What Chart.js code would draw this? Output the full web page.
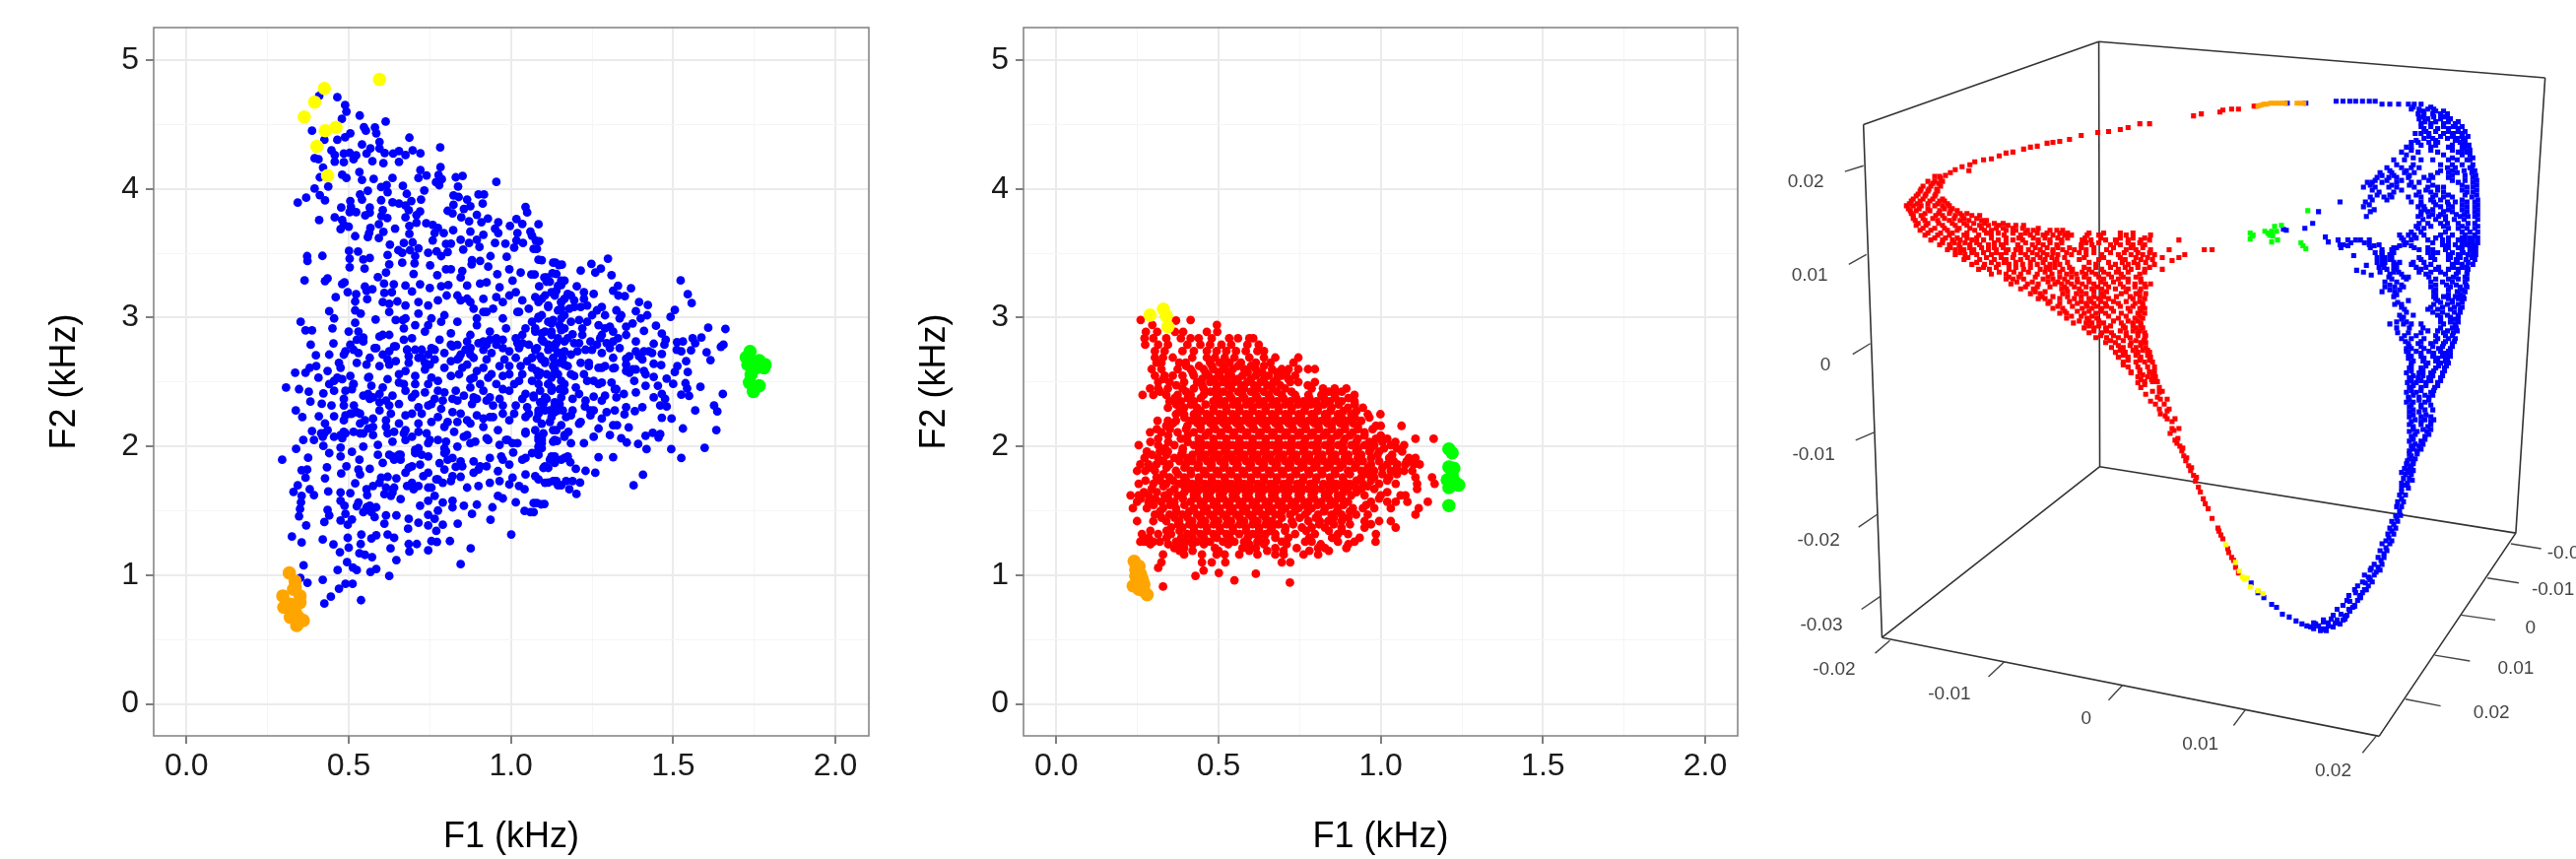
<!DOCTYPE html>
<html>
<head>
<meta charset="utf-8">
<title>F1 F2 vowel space</title>
<script src="https://cdn.jsdelivr.net/npm/chart.js@4"></script>
<style>
  html, body { margin: 0; background: #fff; overflow: hidden; }
  canvas { position: absolute; top: 0; }
  #vowelsA { left: 0; }
  #vowelsB { left: 900px; }
  #embedding { left: 1780px; }
</style>
</head>
<body>
<canvas id="vowelsA" width="900" height="872"></canvas>
<canvas id="vowelsB" width="880" height="872"></canvas>
<canvas id="embedding" width="835" height="872"></canvas>
<script>
// axis ticks, kHz
const f1Major = [0, 0.5, 1, 1.5, 2];
const f1Labels = ['0.0', '0.5', '1.0', '1.5', '2.0'];
const f1Minor = [0.25, 0.75, 1.25, 1.75];
const f2Major = [0, 1, 2, 3, 4, 5];
const f2Labels = ['0', '1', '2', '3', '4', '5'];
const f2Minor = [0.5, 1.5, 2.5, 3.5, 4.5];

// left panel, F1,F2 pairs in Hz
const blueA = [
409,4722,465,4712,489,4651,493,4600,479,4544,534,4570,614,4523,547,4480,581,4478,553,4452,585,4432,387,4452,505,4432,489,4401,465,4381,425,4381,687,4398,782,4322,595,4365,541,4345,567,4314,595,4314,611,4279,555,4274,637,4274,655,4294,675,4263,697,4299,721,4276,447,4299,457,4263,485,4274,503,4281,523,4261,457,4212,485,4207,515,4230,573,4215,607,4200,655,4210,395,4238,407,4230,783,4169,421,4166,533,4131,411,4090,480,4110,493,4085,541,4070,577,4077,635,4085,721,4146,715,4085,740,4105,777,4108,787,4075,769,4052,779,4029,830,4090,851,4100,837,4019,955,4054,437,4019,395,4003,411,3952,427,3911,369,3932,343,3894,559,3985,600,4014,617,4029,620,3975,667,4024,679,3962,733,3988,535,3957,541,3917,600,3912,635,3896,655,3886,675,3871,693,3906,723,3917,505,3906,507,3860,477,3855,503,3820,523,3820,565,3855,551,3794,605,3835,565,3815,601,3789,619,3774,720,3825,685,3835,675,3779,709,3797,409,3758,457,3779,480,3758,485,3720,500,3707,475,3687,593,3725,567,3697,607,3667,563,3657,593,3618,559,3626,520,3633,643,3692,687,3713,687,3651,709,3738,739,3733,759,3720,775,3697,793,3657,765,3657,759,3600,822,3679,823,3876,839,3937,865,3917,823,3950,900,3957,917,3957,913,3886,875,3866,855,3845,805,3830,820,3810,847,3779,895,3799,871,3748,909,3741,929,3769,961,3741,951,3692,961,3657,997,3713,1017,3766,1035,3728,1085,3725,1045,3860,1050,3817,1020,3657,1060,3669,1065,3636,1017,3600,1037,3580,1077,3598,1070,3534,1010,3544,983,3575,951,3580,915,3644,895,3605,875,3669,871,3580,903,3549,845,3605,815,3575,800,3572,853,3529,715,3539,697,3585,670,3580,627,3567,653,3524,689,3524,705,3478,665,3504,745,3504,771,3516,805,3509,785,3478,501,3519,529,3514,503,3458,545,3452,565,3463,372,3478,373,3440,419,3480,503,3391,549,3381,620,3486,625,3414,615,3350,665,3427,703,3422,751,3407,700,3340,773,3330,800,3376,815,3376,850,3363,880,3447,905,3440,937,3478,987,3473,995,3376,1030,3350,958,3338,930,3396,879,3414,1063,3335,1085,3450,1130,3427,1148,3409,1128,3345,1103,3312,1110,3279,1155,3287,1145,3248,364,3289,435,3305,427,3284,487,3274,480,3261,590,3315,609,3264,639,3259,675,3249,720,3259,750,3231,785,3243,807,3254,845,3312,865,3249,905,3264,925,3274,965,3236,1005,3287,550,3241,573,3220,555,3210,497,3198,523,3182,460,3159,557,3144,610,3192,633,3197,695,3203,802,3172,
520,3126,440,3050,455,2994,520,3057,537,3032,625,3044,625,3108,650,3126,675,3095,715,3121,745,3095,775,3134,845,3134,875,3121,915,3146,955,3159,995,3172,1035,3134,1075,3159,1115,3095,1155,3121,583,2986,645,2981,667,2981,352,2968,520,2960,450,2917,367,2902,387,2902,500,2892,530,2892,545,2846,595,2853,625,2866,670,2917,695,2840,735,2892,780,2828,815,2879,865,2815,895,2994,925,3044,975,2994,1025,3044,1065,2968,1115,2968,1155,2994,755,2994,795,3019,835,2968,715,3032,935,2892,985,2917,1035,2866,1075,2892,1125,2866,1165,2917,383,2790,453,2800,505,2790,580,2764,640,2777,680,2751,755,2764,820,2777,875,2764,925,2790,975,2764,1025,2764,1075,2751,1135,2764,
399,2708,440,2713,470,2649,490,2739,525,2828,515,2751,530,2726,525,2649,555,2636,565,2688,585,2764,605,2713,625,2739,645,2777,680,2751,670,2828,725,2751,745,2713,765,2751,815,2790,845,2713,875,2764,915,2751,955,2790,995,2739,1035,2802,1075,2751,1115,2790,1155,2726,335,2573,400,2624,380,2611,367,2573,407,2534,435,2586,455,2509,480,2522,505,2547,515,2484,563,2540,570,2471,620,2522,655,2560,685,2649,715,2688,750,2636,795,2611,815,2547,840,2560,865,2636,895,2586,925,2675,965,2624,995,2560,1025,2509,1065,2611,1105,2662,1145,2560,1165,2636,307,2458,347,2445,377,2425,422,2412,455,2432,510,2445,560,2407,595,2407,635,2394,670,2484,705,2407,745,2484,775,2432,830,2432,875,2458,915,2432,955,2484,995,2432,1045,2407,1085,2484,1125,2432,1155,2381,382,2348,417,2331,447,2318,485,2369,485,2318,516,2318,565,2369,615,2356,655,2330,695,2381,745,2318,790,2356,835,2356,885,2381,925,2356,965,2369,1015,2318,1050,2305,1090,2343,1135,2318,337,2279,357,2228,408,2234,455,2234,490,2241,510,2254,535,2254,595,2279,630,2254,695,2254,725,2254,775,2228,820,2267,875,2178,915,2216,935,2228,995,2203,1045,2228,1085,2254,1135,2267,1170,2228,427,2178,535,2178,575,2216,615,2203,655,2178,715,2178,755,2190,795,2152,835,2190,915,2152,960,2127,1130,2127,387,2119,415,2101,435,2126,485,2114,515,2114,545,2101,575,2088,620,2101,670,2101,695,2075,740,2101,775,2050,800,2037,825,2114,865,2088,890,2037,930,2050,985,2050,1020,2025,1045,2101,1075,2126,1085,2050,1135,2050,1165,2075,360,2050,393,2050,420,2075,455,2075,480,2063,545,1999,590,2012,635,2037,675,2050,715,1986,750,2050,965,2012,1085,1999,
338,1981,422,2004,475,1991,510,1958,440,1948,475,1922,295,1897,375,1912,433,1838,493,1846,533,1897,590,1935,605,1872,625,1935,650,1922,660,1897,705,1948,745,1922,800,1961,820,1910,845,1884,885,1884,935,1910,970,1922,1007,1953,1045,1910,1085,1935,1125,1910,1165,1910,355,1815,372,1820,367,1757,427,1752,477,1790,530,1820,565,1826,535,1782,685,1833,720,1859,780,1871,795,1821,830,1841,850,1846,900,1820,925,1846,960,1808,995,1859,1045,1782,1075,1769,1100,1833,1135,1872,343,1698,380,1667,330,1647,393,1622,355,1616,437,1650,475,1642,520,1713,505,1637,557,1622,575,1693,600,1757,620,1764,647,1752,640,1680,610,1629,630,1616,660,1591,680,1693,700,1667,730,1769,755,1680,770,1744,790,1718,820,1769,845,1764,865,1680,900,1693,935,1718,965,1731,1005,1757,995,1705,1025,1693,1042,1667,1105,1718,1130,1731,1145,1698,1170,1731,353,1566,347,1458,350,1514,369,1387,435,1507,425,1413,440,1464,475,1578,487,1540,490,1476,475,1425,497,1392,510,1433,525,1535,545,1489,565,1540,585,1527,580,1451,615,1464,647,1464,610,1400,685,1438,715,1407,720,1540,745,1578,765,1616,745,1469,775,1502,790,1565,820,1578,820,1527,855,1540,895,1548,880,1476,943,1527,960,1616,975,1596,1015,1566,1070,1560,1093,1550,1042,1499,1060,1489,937,1430,765,1438,790,1392,745,1387,836,1400,683,1361,770,1344,1001,1316,325,1300,355,1254,420,1277,453,1239,497,1290,500,1214,539,1316,537,1242,570,1285,585,1310,620,1316,640,1290,629,1208,685,1242,687,1183,710,1242,745,1193,755,1265,772,1259,812,1265,876,1208,845,1086,473,1178,533,1170,550,1158,572,1140,647,1117,361,1076,495,1101,513,1060,525,1040,466,1040,567,1025,585,1048,625,994,420,964,351,979,373,941,490,933,512,933,470,895,445,833,425,780,538,806,
1087,3593,1080,3534,1095,3447,1137,3427,1157,3412,1215,3366,1248,3417,1299,3458,1277,3381,1260,3350,1073,3335,1140,3340,1110,3312,1120,3279,1165,3287,1155,3254,1310,3330,1523,3289,1545,3182,1557,3113,1203,3243,1330,3248,1315,3210,1370,3228,1331,3172,1351,3167,1087,3243,1140,3210,1185,3172,1225,3197,1255,3185,1395,3121,1422,3098,1280,3083,1325,3057,1340,3019,1385,3050,1420,3019,1505,3060,1492,3006,1095,3146,1115,3083,1165,3146,1195,3083,1235,3095,1250,3019,1085,3006,1130,2981,1165,3019,1210,2981,1400,2994,1335,2994,1447,2937,1465,2876,1608,2922,1661,2912,1075,2917,1125,2891,1155,2904,1190,2871,1220,2917,1220,2866,1270,2942,1305,2930,1280,2866,1355,2930,1375,2955,1410,2897,1330,2840,1265,2790,1100,2815,1140,2802,1195,2802,1230,2751,1295,2802,1385,2815,1440,2797,1477,2828,1473,2790,1512,2810,1530,2815,1560,2840,1587,2846,1568,2802,1555,2746,1655,2790,1647,2774,1511,2751,1525,2738,1603,2731,1615,2670,1465,2718,1425,2738,1405,2675,1355,2682,1385,2738,1315,2688,1280,2726,1185,2713,1145,2726,1095,2675,1540,2662,1440,2642,1463,2631,1513,2624,1505,2578,1545,2578,1315,2606,1375,2598,1410,2585,1440,2540,1480,2527,1500,2486,1538,2491,1543,2450,1525,2402,1549,2392,1584,2463,1653,2407,1453,2471,1465,2407,1440,2381,1475,2369,1460,2318,1480,2310,1495,2216,1465,2223,1568,2279,1626,2318,1636,2272,1530,2139,1633,2127,1355,2585,1380,2509,1385,2420,1415,2471,1310,2496,1325,2445,1348,2407,1270,2484,1235,2509,1195,2547,1155,2509,1110,2560,1080,2585,1280,2611,1240,2649,1135,2598,1090,2432,1125,2458,1165,2432,1210,2407,1255,2387,1290,2394,1100,2330,1145,2279,1185,2241,1228,2310,1255,2279,1295,2267,1320,2279,1355,2305,1350,2249,1382,2274,1405,2305,1080,2216,1120,2190,1140,2127,1177,2114,1210,2177,1270,2139,1305,2088,1327,2165,1363,2147,1340,2063,1357,2030,1392,2019,1418,1979,1415,2083,1437,2106,1460,2096,1455,2070,1494,1979,1525,1910,1597,1989,1255,2075,1225,2025,1185,2025,1142,2042,1095,2050,1085,1973,1140,1897,1115,1833,1175,1922,1183,1877,1270,1917,1315,1917,1200,1826,1230,1810,1260,1795,1407,1780,1378,1698,1085,1744,1140,1731,1155,1698,1190,1731,1213,1719,1180,1667,1202,1631,1080,1560,1103,1553,1070,1489,1115,1719,
840,2688,860,2751,885,2688,900,2802,935,2828,940,2726,975,2828,980,2675,1020,2802,1015,2688,1055,2790,1050,2662,1095,2828,1090,2700,1135,2790,1130,2688,1165,2815,1160,2688,885,2534,905,2484,930,2534,940,2560,975,2547,1010,2484,1035,2560,1065,2509,1090,2573,1115,2484,1130,2624,1165,2484,850,2611,875,2522,835,2675,795,2726,765,2675,725,2688,685,2700,645,2662,620,2675,595,2624,675,2586,705,2547,735,2598,755,2534,775,2509,705,2484,675,2432,735,2420,795,2420,855,2394,895,2369,945,2318,975,2318,1035,2369,1070,2394,1110,2369,1150,2330,1105,2279,1125,2228,1055,2254,1010,2254,975,2254,945,2228,895,2241,865,2203,805,2190,845,2254,785,2292,755,2330,715,2305,675,2241,625,2318,595,2343,575,2381,545,2394,525,2267,550,2203,575,2152,615,2152,640,2114,675,2126,715,2114,745,2025,795,1986,835,1999,875,2025,855,2075,925,2063,990,2050,1005,2025,1045,2114,1085,2075,1095,2025,1130,2037,1165,2088,635,1922,655,1935,640,1897,660,1935,705,1973,725,1935,795,1948,805,1897,695,1846,675,1795,745,1795,775,1744,815,1731,745,1680,715,1693,695,1718,885,1795,905,1846,975,1897,1035,1897,1065,1948,1105,1846,1125,1922,1155,1897,1095,1986,595,1718,615,1680,635,1642,555,1667,530,1565,555,1527,570,1489,485,2203,505,2254,425,2101,475,2088,490,2101,535,2101,560,2139,515,2484,490,2432,465,2534,475,2611,485,2713,440,2484,625,2636,560,2534,605,2458,655,2496,705,2751,735,2649,815,2662,875,2713,915,2611,995,2624,1030,2624,1065,2688,1150,2649,1125,2534,975,2445,935,2381,880,2330,820,2369,765,2369,
1085,3121,1105,3172,1125,3197,1155,3121,1175,3185,1195,3134,1225,3146,1145,3057,1180,3070,1215,3083,1265,3057,1290,3019,1095,3019,1125,2955,1150,2942,1185,2968,1235,2968,1290,2917,1315,2891,1095,2879,1145,2840,1175,2840,1210,2802,1245,2815,1275,2840,1315,2815,1355,2866,1080,2764,1115,2751,1165,2738,1205,2738,1250,2751,1305,2764,1335,2764,1365,2700,1065,2688,1105,2649,1135,2649,1175,2624,1215,2649,1240,2624,1270,2611,1290,2624,1320,2611,1085,2547,1125,2547,1185,2560,1225,2560,1255,2509,1280,2496,1115,2484,1150,2445,1200,2458,1320,2445,1070,2381,1105,2381,1135,2343,1190,2369,1230,2356,1280,2356,1325,2381,1085,2279,1120,2279,1160,2279,1190,2279,1245,2279,1280,2216,1315,2165,1095,2177,1155,2165,1215,2190,1245,2241,1100,2101,1090,1999,1135,1922,1120,1897,1095,2075,1385,2598,1415,2560,1435,2726,1355,2636,1365,2573,1410,2738,1395,2700,
835,3172,865,3147,885,3070,915,3044,895,2942,945,3070,975,3121,1015,3198,1020,3044,1055,3070,1085,2994,1135,3172,1155,3070,1105,2892,1045,2917,1015,2840,955,2840,915,2815,875,2866,835,2789,785,2968,745,2942,705,2942,675,2994,605,2866,545,2815,605,3121
];
const yellowA = [425,4781,595,4850,395,4674,363,4559,428,4452,461,4478,402,4330,435,4103];
const greenA = [1737,2738,1725,2692,1765,2667,1783,2636,1780,2611,1745,2649,1740,2560,1735,2496,1765,2471,1747,2427,1755,2611,1730,2636];
const orangeA = [317,1017,335,953,335,903,350,839,350,788,297,839,300,750,320,775,320,673,335,724,360,648,340,609,345,673,330,890];

// middle panel, rows of [F2, F1, F1, ...] in Hz
const redB = [
[2982,260,414],[2944,296,495],[2977,369],
[2890,276,311,366,391,464,496],
[2840,272,299,339,384,414,439,479,533,560,595,607],
[2790,274,314,344,404,444,474,509,539,589,624],
[2740,304,334,389,424,464,494,524,554,584,620,640],
[2690,304,329,359,419,464,489,519,549,595,640,675,746],
[2650,309,324,379,399,474,504,534,569,615,660,731],
[2600,294,324,374,414,454,484,514,544,579,615,665,695,716,746,776,797],
[2550,304,334,359,389,424,469,504,539,574,615,655,695,736],
[2500,314,349,394,434,474,514,549,589,630,670,721,746,797],
[2450,289,314,344,389,424,454,494,539,579,620,665,705,787,822,858,894],
[2400,266,299,339,374,414,454,494,534,574,615,655,695,736,777,817,858,919],
[2350,349,384,424,484,519,559,600,640,680,721,762,802,843,879,919],
[2300,344,394,434,484,524,564,605,645,685,726,767,807,848,899,945],
[2250,369,394,424,464,504,544,585,625,665,706,747,787,828,868,909,960,999],
[2200,312,344,369,414,454,494,534,574,615,655,695,736,777,817,858,899,940],
[2160,339,404,444,484,524,564,605,645,685,726,767,807,848,889,929,985,1000,1064],
[2110,289,324,374,424,469,509,549,589,630,670,711,752,792,833,873,914,950],
[2060,314,384,439,484,524,564,605,645,685,726,767,807,848,889,929,985,1020,1107,1163],
[2010,254,314,364,424,464,504,544,585,625,665,706,747,787,828,868,909,950,980,1031,1072],
[1960,279,319,344,389,439,479,519,559,600,640,680,721,762,802,843,883,924,965,995,1066],
[1910,272,314,364,404,444,484,524,564,605,645,685,726,767,807,848,889,929,970,1026,1087,1107],
[1860,259,284,309,349,399,439,479,519,559,600,640,680,721,762,802,843,883,924,970,1020,1051,1076,1102,1120],
[1810,249,274,304,369,414,454,494,534,574,615,655,695,736,777,817,858,899,940,980,1031,1072,1097],
[1760,309,349,394,439,479,519,559,600,640,680,721,762,802,843,883,940,980,1026,1107,1158],
[1710,254,299,339,379,419,459,499,539,579,620,660,701,742,782,823,863,904,945,995,1046,1112,1166],
[1670,294,364,414,454,494,534,574,615,655,695,736,777,817,858,899,940,980,1112],
[1620,229,254,284,334,374,424,464,504,544,585,625,665,706,747,787,828,868,909,950,1000,1061,1076],
[1570,249,284,324,364,414,454,494,534,574,615,655,695,736,777,817,858,899,970,1020,1046,1082,1145],
[1520,236,279,329,369,424,464,504,544,585,625,665,706,747,787,828,868,914,945,980,1031,1117],
[1470,304,349,389,434,474,514,554,594,635,675,721,767,807,848,879,924,960,1107],
[1420,249,299,339,379,419,459,499,539,579,620,665,726,777,812,838,879,950,995,1031],
[1370,354,389,424,464,504,544,585,625,665,706,757,787,828,879,950,1046],
[1320,264,314,354,404,444,484,524,564,605,645,675,736,797,868,899,985],
[1260,259,272,299,319,369,399,434,474,514,549,579,620,645,695,767,787,868,919,984],
[1210,364,394,489,574,615,675,741,807,828,894],
[1160,329,394,449,494,519,564,620,675,701,762,807],
[1100,324,449,479,521,695,721],[1057,314],[1037,454],[1018,501],[1011,615],[995,429],[960,549],[942,720],[912,329],
[2625,400,440,480,520,560,600,640],
[2575,420,460,500,530,590,635,680,710],
[2525,330,450,490,525,560,600,640,680,715],
[2475,370,450,495,530,570,610,650,690,775],
[2425,320,400,475,515,560,600,640,680,725,840,880],
[2375,365,405,445,500,540,580,620,660,700,740,780,825,860,900],
[2325,370,415,460,505,545,585,625,665,705,745,785,825,870,920],
[2275,380,445,485,525,565,605,645,685,725,765,805,845,885,925],
[2225,395,435,475,515,555,595,635,675,715,755,795,835,880,920,965],
[2180,360,435,475,515,555,595,635,675,715,755,795,835,875,915],
[2135,310,350,400,445,490,530,570,610,650,690,730,770,810,850,890,930,975],
[2085,345,405,460,505,545,585,625,665,705,745,785,825,865,905,950,1000],
[2035,290,345,405,445,485,525,565,605,645,685,725,765,805,845,885,925,965,1005,1045],
[1985,335,390,445,485,525,565,605,645,685,725,765,805,845,885,930,970,1010,1050],
[1935,295,340,385,420,460,500,540,580,620,660,700,740,780,820,860,900,940,990,1035],
[1885,330,380,420,465,505,545,585,625,665,705,745,785,825,865,905,945,995,1040,1080],
[1835,290,340,395,435,475,515,555,595,635,675,715,755,795,835,875,920,960,1005,1050],
[1785,330,375,415,460,500,540,580,620,660,700,740,780,820,860,905,960,1005,1050],
[1735,275,320,360,400,440,480,520,560,600,640,680,720,760,800,845,885,925,970,1020],
[1690,330,395,435,475,515,555,595,635,675,715,755,795,840,880,920,960],
[1645,270,310,350,395,435,475,515,555,595,635,675,715,755,795,840,885,925,1020],
[1595,260,305,345,390,435,475,515,555,595,635,675,715,755,795,840,880,995],
[1545,300,350,395,445,485,525,565,605,645,685,725,765,805,845,885,955],
[1495,320,370,410,455,495,535,575,615,655,695,735,775,825,865,905],
[1445,325,365,405,445,485,525,565,605,645,695,750,800,855,900],
[1395,375,410,445,485,525,565,605,645,685,730,810,855,905,970],
[1345,290,340,380,425,465,505,545,585,625,660,705,770,840,880],
[1290,285,340,385,420,455,495,535,590,625,675,715,780,850,935],
[1240,290,345,385,420,455,530,595,640,710,815,900],
[1190,380,420,500,595,650,700,780,840]
];
const yellowB = [289,3020,330,3066,339,3015,344,2929];
const greenB = [1210,1980,1220,1950,1210,1840,1225,1830,1210,1680,1240,1700,1210,1540,1220,1770,1205,1740,1230,1720];
const orangeB = [240,1108,255,1070,260,1006,245,993,265,968,237,917,270,878,280,848,255,890,270,930,245,1044];

// right panel: projected view of the 3d cloud, u across and v down the panel
const viewWidth = 835;
const viewHeight = 872;
const boxEdges = [
  [109,124,350,39],[350,39,807,76],[350,39,351,474],[109,124,128,649],[807,76,777,542],
  [351,474,128,649],[351,474,777,542],[128,649,637,750],[637,750,777,542]
];
const axisTicks = [
  [109,166,90,172],[112,257,94,267],[116,348,98,359],[120,439,101,447],[123,523,104,536],[126,607,107,620],
  [136,652,121,665],[253,674,237,689],[374,698,360,713],[500,723,488,739],[634,750,620,767],
  [772,553,803,558],[748,588,780,593],[721,626,756,631],[694,667,730,673],[664,712,700,719]
];
const axisText = ['0.02','0.01','0','-0.01','-0.02','-0.03','-0.02','-0.01','0','0.01','0.02','-0.02','-0.01','0','0.01','0.02'];
const axisTextU = [50,54,70,58,63,66,79,197,337,454,590,831,815,792,777,752];
const axisTextV = [183,278,370,462,550,636,682,707,732,758,786,563,600,639,681,726];

// rows of [v, u, u, ...]
const redC = [
[123,402,392],[127,380],[129,372],[131,360],[132,349],[135,332],[139,320],[141,310],[142,303],[143,297],[146,287],[147,280],[149,273],[152,262],[153,255],[156,248],[159,240],[160,232],[162,223],[165,218],[171,217],[167,210],[170,203],[173,198],[176,193],[179,188],
[115,447],[113,455],[111,474],[108,486,493],[109,477],[105,509,511],
[177,182,187],[182,175,182,190],[187,170,178,188],[192,167,175,185],[197,163,172,182],[202,158,167,177,187,192],[207,153,160,168,182,190,197],[212,157,163,177,187,198,205],[217,160,168,183,190,203,210,220,228],[222,162,172,185,197,208,217,230,235],
[227,163,173,190,203,215,228,237,247,257,265,273],
[232,167,178,195,205,223,233,240,255,265,277,283,300,307,313],
[237,172,185,197,212,227,240,253,270,280,293,303,315,322,338,350,378,403],
[242,178,190,200,208,220,232,247,262,272,288,300,312,333,342,357,367,380,393,402,432],
[247,187,197,207,218,228,237,250,267,282,293,307,332,343,362,372,385,397],
[252,195,203,212,222,237,245,257,265,278,290,303,313,325,337,358,378,388,403,422,458,466],
[257,203,213,225,240,250,263,275,287,297,308,322,337,353,370,383,395,407,438],
[260,415,432],[263,425],
[262,212,228,243,255,270,283,295,307,330,350,377,393,405],
[267,220,233,247,258,272,287,300,310,347,367,380,390,407],
[272,227,238,258,273,290,300,313,323,340,353,370,383,397,415],
[277,240,255,270,287,302,317,327,337,347,360,373,392],
[282,255,262,273,293,303,315,328,340,355,370,380,393],
[287,260,277,288,305,312,322,333,345,357,372,387,397,403],
[292,270,283,312,317,330,343,353,367,380,393],
[297,280,290,313,327,337,353,373,388,398],
[302,288,295,310,325,340,350,360,385,397],
[307,298,310,328,337,345,357,370,387,395],
[312,303,313,333,343,353,363,380,392,397],
[317,310,317,335,347,357,373,390,397],
[322,317,338,348,370,387,395],
[327,324,337,343,355,373,385,393],
[332,335,345,357,377,388,395],
[337,340,353,363,378,390,397],
[342,347,358,370,382,397],
[347,357,367,383,393,398],
[352,363,375,388,398],
[357,367,377,390,402],
[362,370,380,393,403],
[367,375,388,397,405],
[372,380,390,400,407],
[377,383,392,402,407],
[382,390,400,408],
[387,397,407,410],
[370,375],[378,383],[375,392],[377,402],[393,393,412],[400,398],[387,405],[398,412],[410,408,417],[420,413],[417,420],[428,425],[440,423],[447,428],[453,433],[463,437],[473,442],[483,447],[495,452],[507,457],[517,462],[527,466],[540,473],[548,477],[562,483],[570,488],[583,493],
[403,410],[407,403],[388,390],[390,397],[422,418],[437,427],[450,430],[458,435],[468,439],[478,444],[489,449],[500,454],[512,459],[537,472],[544,475],[558,482],[567,486],[577,490],
[184,180,186],[190,168,176,184],[195,165,173,183],[200,160,170,180,190],[205,156,164,175,185,195],[210,155,166,175,192,200],[215,158,172,186,197,208,215],[220,160,170,180,192,202,212,225],[225,165,175,186,200,212,222,233,243,252],[230,170,182,192,207,218,230,245,252,262,272,288],[235,175,188,200,215,235,247,262,275,287,297,310,318,340,355,372,385],[240,182,193,205,215,225,240,255,268,283,295,308,318,336,352,372,385,397],[245,190,202,213,225,243,255,275,288,300,312,337,350,368,380,392],[250,198,208,218,230,243,252,270,285,297,308,320,332,345,365,383,395],[255,208,220,232,245,255,270,282,293,303,317,330,345,362,376,390,402],[260,216,235,250,262,277,290,302,315,335,355,372,388,400],[265,225,240,253,265,280,293,305,318,340,360,374,386,398],[270,232,245,265,280,296,305,320,335,347,362,377,390,402],[275,248,263,278,295,310,322,333,343,355,368,380,397],[280,258,268,285,298,310,322,335,350,363,375,388],[285,266,282,298,308,318,328,340,352,365,380,393],[290,275,287,300,315,325,337,348,360,375,387,398],[295,285,295,318,332,345,358,378,392],[300,292,303,318,332,345,355,368,382,392],[305,300,320,332,342,352,365,378,392],[310,308,323,338,348,358,372,385,395],[315,315,328,340,352,365,382,393],[320,322,332,343,360,378,392],[325,330,340,350,365,380,390],[330,340,350,362,375,385,393],[335,345,358,372,385,392],[340,352,365,378,390,398],[345,362,375,388,396],[350,370,382,393],[355,372,385,395,400],[360,375,388,400],[365,380,392,402],[380,395,405],[385,393,404],[397,405,415],[405,413,420],[415,412,422],[425,420,428],[435,425,432],[445,431],[455,436],[465,440],[475,445],[485,450]
];
const blueC = [
[102,543,562],[100,593,600,607,613,620,627,633],[103,640,648,657,667,673,680],[108,670,678,687,693],[113,677,683,692,700,707],[118,678,687,700,710],[123,680,690,703,715],[128,683,697,708,718],[133,674,680,688,703,713,722],[138,683,692,707,717,723],[142,670,677,688,697,720,725],[147,665,670,690,708,725],[152,660,677,697,718,727],[160,652,663,680,692,708,717,727,730],[168,645,660,670,678,707,715,730,732],[173,638,650,663,673,697,708,717,732],[178,635,647,655,667,683,692,708,733],[183,625,630,640,655,670,678,718,733],[188,621,633,647,655,673,687,697,703,727,733],[193,637,652,678,690,703,727,733],[198,628,642,650,667,680,692,703,712,732],[203,597,623,670,680,693,707,715,727,735],[208,621,677,683,700,712,727,735],[213,575,628,680,687,703,712,727,735],[218,624,677,688,698,705,720,728,735],[225,569,678,687,700,707,718,728,735],[230,561,677,683,708,718,727,735],[232,542],[231,539],[237,658,667,673,683,700,712,725,735],[239,582],[244,585],
[242,595,605,613,618,627,662,670,687,702,718,725,733],[247,597,600,627,637,663,702,715,727,733],[250,598,628,652,655,673,687,708,718,733],[255,633,640,652,687,697,712,723,733],[258,611],[260,635,643,650,678,690,710,720,732],[265,635,643,652,658,672,683,717,728],[268,624],[270,637,642,652,675,685,698,713,722,727],[273,614],[275,621,638,652,657,678,690,700,718,727],[278,629],[280,647,662,667,688,713,725],[285,643,655,690,702,712,725],[290,643,653,662,690,710,720,727],[295,640,653,693,717,725],[300,652,693,703,715,723],[304,667,697,712,722],[308,653,660,693,707,718],[313,663,687,697,710,720],[319,658,672,697,707,718],[323,660,700,712,717],[328,648,662,670,680,703,715],[335,687,697,707,717],[337,656,667,680,703,713],[343,660,670,683,697,708,715],[348,667,677,690,703,712],[353,665,670,683,698,710],[358,667,680,693,705,710],[363,667,683,697,707],[368,670,687,700,708],
[373,668,680,695,704],[378,665,678,690,702],[383,668,677,688,700],[388,666,675,685,697],[393,668,680,694],[398,665,675,690],[403,667,678,688],[408,665,672,684],[413,668,680],[418,668,678],[423,668,680,690],[428,670,680,690],[433,672,687],[438,668,676,686],[443,670,684],[448,668,680],[453,670,678],[458,668,676],[463,670],[468,666,672],[473,668],[478,666,672],[480,660,668],[488,671],[493,663],[500,660],[507,660],[520,658],[527,655],[533,652],[540,650],[547,647],[557,644],[563,642],[570,639],[577,636],[582,634],[587,626],[590,628],[603,620],[608,618],[617,612],[622,607],[630,602],
[593,506],[603,513],[608,519],[615,527],[618,532],[625,538],[628,545],[632,552],[635,558,572],[638,567,590],[642,577,583],[637,563],[633,580],[630,588],[635,597],[627,603],[618,610],[608,617],[600,622],[588,627],[625,598],[612,607],[603,613],[593,623],[578,629],
[106,672,690],[110,682,695,703],[116,682,693,705],[121,684,695,708,718],[126,680,690,703,713,722],[131,685,695,708,718,725],[136,688,700,712,722,728],[140,675,695,715,725],[145,680,695,712,722,729],[150,670,690,712,722,730],[155,665,703,722,730],[158,672,712,733],[165,655,672,700,712,722,733],[171,648,665,700,712,724,735],[176,640,652,668,690,712,725,736],[181,633,645,660,688,712,725,737],[186,628,650,668,692,722,737],[191,630,660,685,697,722,737],[196,635,648,675,695,708,725,737],[201,630,645,690,700,722,738],[206,627,680,695,708,722,738],[211,632,684,692,708,722,738],[216,680,692,700,716,724,738],[221,682,695,705,714,724,738],[228,675,690,703,722,738],[234,670,680,705,722,730,738],[240,660,675,695,708,722,730,738],[245,608,622,665,692,708,722,730,738],[248,605,632,658,670,705,722,730,736],[252,640,650,678,692,705,722,730,736],[257,640,648,692,708,718,728,736],[262,640,648,680,694,708,716,726,735],[267,640,655,670,690,712,722,733],[272,645,655,680,695,708,718,728],[277,648,660,685,705,716,727],[282,650,665,695,708,718,727],[288,648,660,695,706,716,726],[293,648,658,695,708,722],[298,655,695,708,720],[302,695,708,718,724],[306,656,700,712,722],[311,660,690,702,714,722],[316,665,692,702,714,720],[321,662,700,710,718],[326,655,665,700,710,718],[332,655,668,682,700,712,716],[340,663,675,695,705,712],[346,664,680,695,705,714],[351,668,680,692,702,712],[356,665,675,688,700,708],[361,670,680,692,702,710],[366,672,682,695,705],[371,670,685,698,706],[376,670,682,693,704],[381,672,682,692,702],[386,670,680,690,700],[391,672,685,697],[396,670,680,693],[401,672,684,692],[406,668,678,688],[411,670,680,690],[416,672,684,692],[421,672,685],[426,674,684,693],[431,668,680,690],[436,672,682,690],[441,674,688],[446,672,684],[451,674,682],[456,672,680],[461,668,676],[466,668,674],[471,665,672],[476,663,670],[482,664,670],[486,662,668],[491,660,666],[496,660,667],[503,658,664],[510,656,662],[515,655,660],[524,654,659],[530,650,656],[537,648,654],[543,646,652],[550,644,650],[553,640,648],[560,638,645],[567,636,642],[574,632,640],[580,628,638],[585,622,632],[592,620,630],[596,615,626],[600,612,624],[606,606,618],[611,604,615],[616,600,612],[620,594,606],[626,590,604],[631,580,594,600],[634,570,585,592],[637,575,585],[640,570,580],[641,582]
];
const greenC = [564,212,505,235,507,238,508,237,505,241,520,233,523,235,527,233,530,228,537,227,532,233,528,238,533,242,527,244,525,237,557,245,559,248,562,251];
const yellowC = [480,554,490,572,494,581,497,587,502,588,505,597,513,601,518,604,499,589];
const orangeC = [513,105,516,104,519,103,522,103,526,102,530,102,534,102,538,102,541,102,553,102,557,102,560,102];

function fromPairs(flat, scale) {
  const pts = [];
  for (let i = 0; i + 1 < flat.length; i += 2) pts.push({ x: flat[i] / scale, y: flat[i + 1] / scale });
  return pts;
}
function fromRows(rows, scale, flip) {
  return rows.flatMap(([r, ...vals]) => vals.map(v => flip ? { x: v, y: r } : { x: v / scale, y: r / scale }));
}
function segments(list) {
  return list.flatMap(s => [{ x: s[0], y: s[1] }, { x: s[2], y: s[3] }, { x: NaN, y: NaN }]);
}

const panelBox = {
  id: 'panelBox',
  afterDatasetsDraw(chart) {
    const a = chart.chartArea, c = chart.ctx;
    c.save();
    c.strokeStyle = '#7f7f7f';
    c.lineWidth = 1.5;
    c.strokeRect(a.left, a.top, a.right - a.left, a.bottom - a.top);
    c.restore();
  }
};

function vowelChart(id, axisWidth, rightPad, titleOffset, sets, xMin, xMax) {
  const isMajor = (list, v) => list.includes(v);
  new Chart(document.getElementById(id), {
    type: 'scatter',
    data: {
      datasets: sets.map(s => ({
        data: s.data, backgroundColor: s.color, borderWidth: 0,
        pointRadius: s.r, pointHoverRadius: s.r
      }))
    },
    plugins: [panelBox],
    options: {
      responsive: false, animation: false, events: [],
      layout: { padding: { top: 28, right: rightPad, left: 0, bottom: 0 } },
      plugins: { legend: { display: false }, tooltip: { enabled: false } },
      scales: {
        x: {
          type: 'linear', min: xMin, max: xMax,
          afterBuildTicks: s => { s.ticks = f1Major.concat(f1Minor).sort((a, b) => a - b).map(value => ({ value })); },
          afterFit: s => { s.height = 125; },
          grid: {
            color: c => c.tick && isMajor(f1Major, c.tick.value) ? '#ebebeb' : '#f5f5f5',
            lineWidth: c => c.tick && isMajor(f1Major, c.tick.value) ? 2 : 1,
            tickColor: c => c.tick && isMajor(f1Major, c.tick.value) ? '#555' : 'rgba(0,0,0,0)',
            tickLength: 8, tickWidth: 1.5
          },
          border: { display: false },
          ticks: {
            autoSkip: false, maxRotation: 0, padding: 4, color: '#1a1a1a',
            font: { family: 'Liberation Sans', size: 32 },
            callback: v => isMajor(f1Major, v) ? f1Labels[f1Major.indexOf(v)] : ''
          },
          title: { display: true, text: 'F1 (kHz)', color: '#000', padding: { top: 3, bottom: 0 },
            font: { family: 'Liberation Sans', size: 36 } }
        },
        y: {
          type: 'linear', min: -0.248, max: 5.253,
          afterBuildTicks: s => { s.ticks = f2Major.concat(f2Minor).sort((a, b) => a - b).map(value => ({ value })); },
          afterFit: s => { s.width = axisWidth; },
          grid: {
            color: c => c.tick && isMajor(f2Major, c.tick.value) ? '#ebebeb' : '#f5f5f5',
            lineWidth: c => c.tick && isMajor(f2Major, c.tick.value) ? 2 : 1,
            tickColor: c => c.tick && isMajor(f2Major, c.tick.value) ? '#555' : 'rgba(0,0,0,0)',
            tickLength: 8, tickWidth: 1.5
          },
          border: { display: false },
          ticks: {
            autoSkip: false, padding: 7, color: '#1a1a1a',
            font: { family: 'Liberation Sans', size: 32 },
            callback: v => isMajor(f2Major, v) ? f2Labels[f2Major.indexOf(v)] : ''
          },
          title: { display: true, text: 'F2 (kHz)', color: '#000', padding: { top: titleOffset, bottom: 0 },
            font: { family: 'Liberation Sans', size: 36 } }
        }
      }
    }
  });
}

vowelChart('vowelsA', 156, 18, 44, [
  { data: fromPairs(yellowA, 1000), color: '#ffff00', r: 6.8 },
  { data: fromPairs(greenA, 1000), color: '#00ff00', r: 6.8 },
  { data: fromPairs(orangeA, 1000), color: '#ffa500', r: 6.8 },
  { data: fromPairs(blueA, 1000), color: '#0000ff', r: 4.4 }
], -0.101, 2.103);

vowelChart('vowelsB', 139, 16, 27, [
  { data: fromPairs(yellowB, 1000), color: '#ffff00', r: 6.8 },
  { data: fromPairs(greenB, 1000), color: '#00ff00', r: 6.8 },
  { data: fromPairs(orangeB, 1000), color: '#ffa500', r: 6.8 },
  { data: fromRows(redB, 1000), color: '#ff0000', r: 4.4 }
], -0.101, 2.1);

const viewText = {
  id: 'viewText',
  afterDatasetsDraw(chart) {
    const c = chart.ctx, sx = chart.scales.x, sy = chart.scales.y;
    c.save();
    c.font = '19px "Liberation Sans"';
    c.fillStyle = '#444';
    c.textAlign = 'center';
    c.textBaseline = 'middle';
    axisText.forEach((t, i) => c.fillText(t, sx.getPixelForValue(axisTextU[i]), sy.getPixelForValue(axisTextV[i])));
    c.restore();
  }
};

function cloud(data, color) {
  return { data, backgroundColor: color, borderWidth: 0, pointStyle: 'rect', pointRadius: 3.6, pointHoverRadius: 3.6 };
}
function wire(data, color, width) {
  return { data, showLine: true, spanGaps: false, borderColor: color, borderWidth: width, pointRadius: 0, fill: false };
}

new Chart(document.getElementById('embedding'), {
  type: 'scatter',
  data: {
    datasets: [
      cloud(fromPairs(yellowC, 1), '#ffff00'),
      cloud(fromPairs(orangeC, 1), '#ffa500'),
      cloud(fromPairs(greenC, 1), '#00ff00'),
      cloud(fromRows(blueC, 1, true), '#0000ff'),
      cloud(fromRows(redC, 1, true), '#ff0000'),
      wire(segments(boxEdges), '#333', 1.6),
      wire(segments(axisTicks), '#444', 1.4)
    ]
  },
  plugins: [viewText],
  options: {
    responsive: false, animation: false, events: [],
    layout: { padding: 0 },
    plugins: { legend: { display: false }, tooltip: { enabled: false } },
    scales: {
      x: { type: 'linear', display: false, min: 0, max: viewWidth },
      y: { type: 'linear', display: false, min: 0, max: viewHeight, reverse: true }
    }
  }
});
</script>
</body>
</html>
